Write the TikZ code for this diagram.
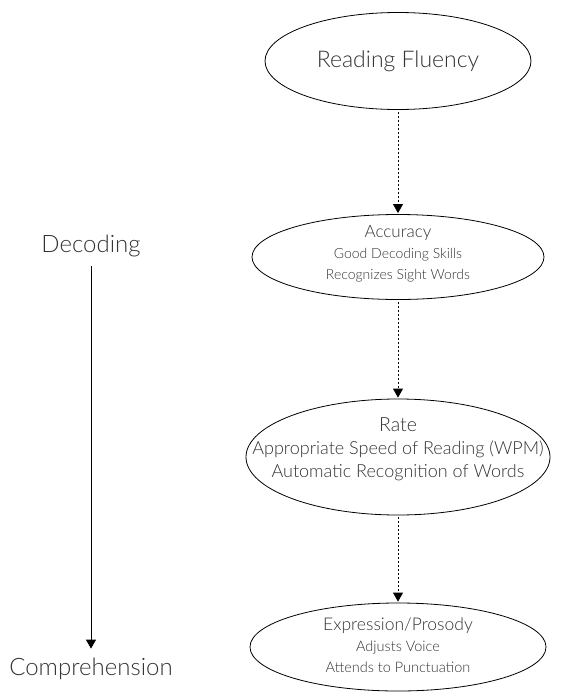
\documentclass[tikz,border=0pt]{standalone}
\usepackage{fontspec}
\setmainfont{Lato}[UprightFont={* Light}]
\usetikzlibrary{shapes.geometric,arrows.meta}

\begin{document}
\begin{tikzpicture}[x=1pt,y=-1pt,
    oval/.style={draw,ellipse,line width=0.8pt,inner xsep=-200pt,inner ysep=-80pt},
    words/.style={align=center,text=black!80,inner sep=0pt},
    link/.style={line width=0.8pt,dash pattern=on 2pt off 2pt,shorten <=2pt,shorten >=1pt,
        -{Triangle[length=9pt,width=10pt]}},
    side/.style={text=black!80,font=\fontsize{24}{28}\selectfont}]
    \useasboundingbox (0,0) rectangle (580,697);
    % ovals
    \node[oval,minimum width=266pt,minimum height=97pt] (fluency) at (398,61) {};
    \node[oval,minimum width=292pt,minimum height=85pt] (accuracy) at (398,257) {};
    \node[oval,minimum width=304pt,minimum height=116pt] (rate) at (398,457) {};
    \node[oval,minimum width=296pt,minimum height=88pt] (prosody) at (398,647) {};
    % texts
    \node[words,font=\fontsize{23}{26}\selectfont] (fluencytext) at (fluency) {Reading Fluency};
    \node[words,font=\fontsize{14}{21}\selectfont] (accuracytext) at (398,254)
     {{\fontsize{17}{21}\selectfont Accuracy}\\Good Decoding Skills\\Recognizes Sight Words};
    \node[words,font=\fontsize{18}{23}\selectfont] (ratetext) at (398,449)
     {{\fontsize{19.5}{23}\selectfont Rate}\\Appropriate Speed of Reading (WPM)\\Automatic Recognition of Words};
    \node[words,font=\fontsize{14.5}{21}\selectfont] (prosodytext) at (398,645)
     {{\fontsize{17.5}{21}\selectfont Expression/Prosody}\\Adjusts Voice\\Attends to Punctuation};
    \draw[link] (fluency) -- (accuracy);
    \draw[link] (accuracy) -- (rate);
    \draw[link] (rate) -- (prosody);
    % left scale
    \node[side] (decoding) at (91,246) {Decoding};
    \node[side] (comprehension) at (91,669) {Comprehension};
    \draw[line width=0.8pt,shorten <=6pt,shorten >=6pt,-{Triangle[length=9pt,width=10pt]}] (decoding) -- (comprehension);
\end{tikzpicture}
\end{document}
